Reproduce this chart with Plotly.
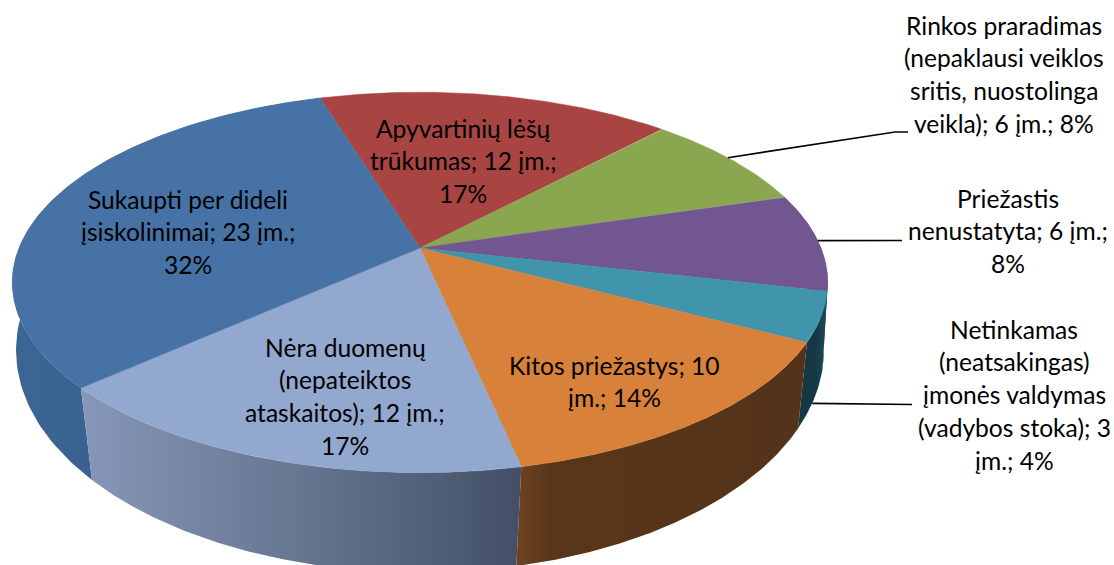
import numpy as np
import plotly.graph_objects as go

# --- data (clockwise from the red slice) ---
slice_names = ["Apyvartinių lėšų trūkumas", "Rinkos praradimas", "Priežastis nenustatyta",
               "Netinkamas valdymas", "Kitos priežastys", "Nėra duomenų", "Sukaupti per dideli įsiskolinimai"]
companies = [12, 6, 6, 3, 10, 12, 23]
top_colors = ["#A84442", "#8AA64E", "#71568F", "#4095AD", "#D8813A", "#93A8CF", "#4672A6"]
wall_colors = [
    [[0, "#7a2f2e"], [1, "#7a2f2e"]], [[0, "#5f7335"], [1, "#5f7335"]], [[0, "#4e3b63"], [1, "#4e3b63"]],
    [[0, "#153541"], [0.6, "#163845"], [1, "#1b4c5c"]],
    [[0, "#6E4220"], [0.12, "#593619"], [1, "#53331A"]],
    [[0, "#8697B8"], [0.5, "#667690"], [1, "#424F66"]],
    [[0, "#3B6594"], [1, "#355A85"]],
]
label_lines = [
    ["Apyvartinių lėšų", "trūkumas; 12 įm.;", "17%"],
    ["Rinkos praradimas", "(nepaklausi veiklos", "sritis, nuostolinga", "veikla); 6 įm.; 8%"],
    ["Priežastis", "nenustatyta; 6 įm.;", "8%"],
    ["Netinkamas", "(neatsakingas)", "įmonės valdymas", "(vadybos stoka); 3", "įm.; 4%"],
    ["Kitos priežastys; 10", "įm.; 14%"],
    ["Nėra duomenų", "(nepateiktos", "ataskaitos); 12 įm.;", "17%"],
    ["Sukaupti per dideli", "įsiskolinimai; 23 įm.;", "32%"],
]
label_x = [463, 1004, 1008, 1014, 614, 345, 188]
label_y = [128, 25, 198, 329, 365, 347, 199]
line_gap = 32.8

# --- projection of the tilted disc ---
W, H = 1114, 565
CX, CY = 420, 248
A, B, K = 184, 401, 0.181
A2, B2, K2, Y2 = 218, 400, 0.14, 319
START_DEG = -17.0


def project(theta_deg, bottom=False):
    t = np.radians(theta_deg)
    X, Y = np.sin(t), -np.cos(t)
    if bottom:
        w = 1 - K2 * Y
        return CX + B2 * X / w, Y2 + A2 * Y / w
    w = 1 - K * Y
    return CX + B * X / w, CY + A * Y / w


total = sum(companies)
edges = START_DEG + np.concatenate([[0], np.cumsum(companies)]) * 360 / total

fig = go.Figure()

# side walls, drawn first
for i in [2, 3, 6, 4, 5]:
    th = np.linspace(edges[i], edges[i + 1], 120)
    tx, ty = project(th)
    bx, by = project(th, bottom=True)
    fig.add_trace(go.Scatter(
        x=np.concatenate([tx, bx[::-1], tx[:1]]), y=np.concatenate([ty, by[::-1], ty[:1]]),
        mode="lines", line=dict(width=0), fill="toself",
        fillgradient=dict(type="horizontal", colorscale=wall_colors[i]),
        hoverinfo="skip", showlegend=False))

# top faces
for i in range(len(companies)):
    th = np.linspace(edges[i], edges[i + 1], 160)
    tx, ty = project(th)
    fig.add_trace(go.Scatter(
        x=np.concatenate([[CX], tx, [CX]]), y=np.concatenate([[CY], ty, [CY]]),
        mode="lines", line=dict(width=0.5, color=top_colors[i]), fill="toself",
        fillcolor=top_colors[i], hovertext=slice_names[i], hoverinfo="text", showlegend=False))


def leader(points):
    fig.add_trace(go.Scatter(x=[p[0] for p in points], y=[p[1] for p in points], mode="lines",
                             line=dict(color="#000000", width=1.6), hoverinfo="skip", showlegend=False))


leader([project(edges[1] + 0.48 * (edges[2] - edges[1])), (895, 132), (908, 132)])
leader([project(edges[2] + 0.49 * (edges[3] - edges[2])), (902, 240.5)])
leader([project(edges[3] + 0.57 * (edges[4] - edges[3]), bottom=True), (912, 404.5)])

for lines, lx, ly in zip(label_lines, label_x, label_y):
    for j, text in enumerate(lines):
        fig.add_annotation(x=lx, y=ly + j * line_gap, text=text, showarrow=False,
                           xanchor="center", yanchor="middle",
                           font=dict(family="Lato, Carlito, sans-serif", size=24.6, color="#000000"))

fig.update_xaxes(range=[0, W], visible=False, fixedrange=True)
fig.update_yaxes(range=[H, 0], visible=False, fixedrange=True)
fig.update_layout(width=W, height=H, margin=dict(l=0, r=0, t=0, b=0),
                  paper_bgcolor="white", plot_bgcolor="white", showlegend=False)
fig.write_html("out.html", post_script="document.body.style.margin='0';document.documentElement.style.overflow='hidden';",
               config={"displayModeBar": False})
